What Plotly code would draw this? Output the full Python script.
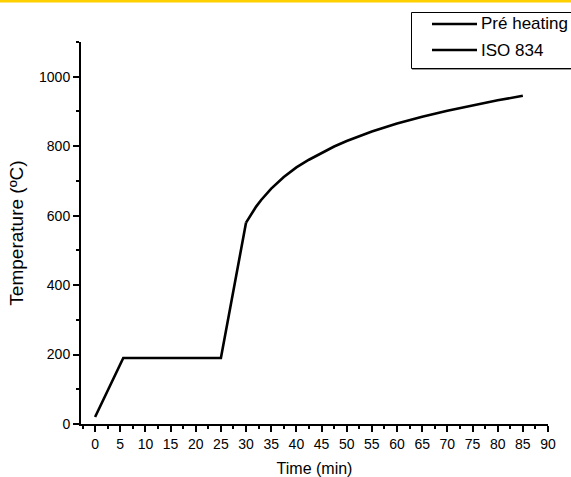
import plotly.graph_objects as go

# Pre-heating stage (time in min, temperature in °C)
pre_time = [0, 5.6, 25, 30]
pre_temp = [20, 190, 190, 580]

# ISO 834 stage
iso_time = [30, 31, 32, 33, 34, 35, 37.5, 40, 42.5, 45, 47.5, 50, 55, 60, 65, 70, 75, 80, 85]
iso_temp = [580, 603, 626, 645, 662, 678, 711, 739, 761, 781, 799, 815, 842, 865, 885, 902, 918, 932, 945]

series_names = ["Pré heating", "ISO 834"]

x_ticks = list(range(0, 95, 5))
y_ticks = [0, 200, 400, 600, 800, 1000]

FONT = "Liberation Sans, Arial, sans-serif"
W, H = 571, 477
PL, PR, PT, PB = 81, 548, 42, 424  # plot area pixel box


def px(x):
    return x / W


def py(y):
    return 1 - y / H


fig = go.Figure()
fig.add_trace(go.Scatter(x=pre_time, y=pre_temp, mode="lines", name=series_names[0],
                         line=dict(color="black", width=2.6)))
fig.add_trace(go.Scatter(x=iso_time, y=iso_temp, mode="lines", name=series_names[1],
                         line=dict(color="black", width=2.6)))

# legend drawn as a boxed key (lines + text)
shapes = [
    dict(type="line", xref="paper", yref="paper", x0=0, x1=1, y0=py(1), y1=py(1),
         line=dict(color="#FFD000", width=3)),
    dict(type="rect", xref="paper", yref="paper", x0=px(411.5), x1=px(580), y0=py(12.5), y1=py(68.5),
         line=dict(color="black", width=1), fillcolor="white"),
    dict(type="line", xref="paper", yref="paper", x0=px(412), x1=px(580), y0=py(69.5), y1=py(69.5),
         line=dict(color="#999999", width=1)),
]
annotations = []
for i, nm in enumerate(series_names):
    yy = 24 + 26 * i
    shapes.append(dict(type="line", xref="paper", yref="paper", x0=px(432), x1=px(477),
                       y0=py(yy), y1=py(yy), line=dict(color="black", width=2.6)))
    annotations.append(dict(text=nm, xref="paper", yref="paper", x=px(479), y=py(yy),
                            xanchor="left", yanchor="middle", showarrow=False,
                            font=dict(size=17, family=FONT, color="black")))

fig.update_layout(
    width=W, height=H,
    margin=dict(l=0, r=0, t=0, b=0, autoexpand=False),
    paper_bgcolor="white", plot_bgcolor="white",
    font=dict(family=FONT, color="black", size=14),
    showlegend=False,
    xaxis=dict(
        domain=[PL / W, PR / W], automargin=False,
        range=[-2.8, 90], tickmode="array", tickvals=x_ticks,
        ticktext=[str(v) for v in x_ticks],
        showgrid=False, zeroline=False, showline=True, linecolor="black", linewidth=2,
        ticks="outside", ticklen=6, tickwidth=1.5, tickcolor="black",
        tickfont=dict(size=14),
        minor=dict(dtick=2.5, tick0=0, ticks="outside", ticklen=3, tickwidth=1.5, tickcolor="black"),
        title=dict(text="Time (min)", font=dict(size=16), standoff=12),
    ),
    yaxis=dict(
        domain=[1 - PB / H, 1 - PT / H], automargin=False,
        range=[0, 1100], tickmode="array", tickvals=y_ticks,
        showgrid=False, zeroline=False, showline=True, linecolor="black", linewidth=2,
        ticks="outside", ticklen=6, tickwidth=1.5, tickcolor="black",
        tickfont=dict(size=14),
        minor=dict(dtick=100, tick0=0, ticks="outside", ticklen=3, tickwidth=1.5, tickcolor="black"),
        title=dict(text="Temperature (ºC)", font=dict(size=19), standoff=10),
    ),
    shapes=shapes,
    annotations=annotations,
)

fig.write_html("out.html", config={"displayModeBar": False},
               post_script="document.body.style.margin='0';document.body.style.padding='0';")
